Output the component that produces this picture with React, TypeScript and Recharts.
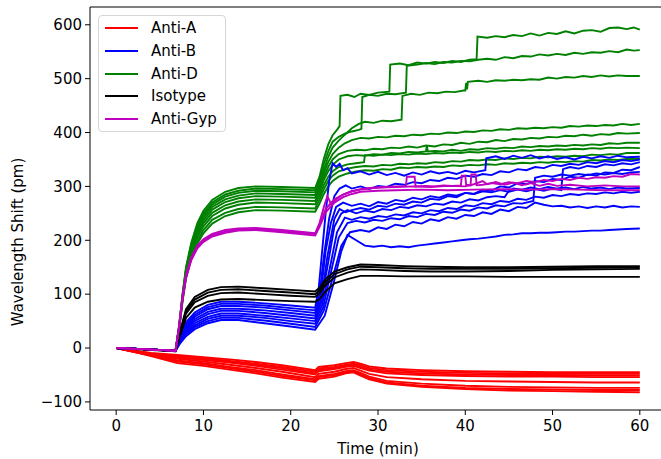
import React from 'react';
import { LineChart, Line, XAxis, YAxis, ReferenceLine } from 'recharts';

type Pt = [number, number];

const X_TICKS = [0, 10, 20, 30, 40, 50, 60];
const Y_TICKS = [-100, 0, 100, 200, 300, 400, 500, 600];
const X_DOMAIN: [number, number] = [-3, 63];
const Y_DOMAIN: [number, number] = [-115, 633];

// Anti-A (red) share one time base
const RED_T = [0, 2, 4, 7, 10, 13, 16, 19, 22.8, 23.2, 25, 26.3, 27.2, 28, 29, 31, 35, 40, 45, 50, 55, 60];
const red1 = [0, -5, -9, -13, -17, -21, -26, -32, -41, -35, -32, -28, -26, -29, -34, -38, -41, -43, -44, -45, -45, -45];
const red2 = [0, -5, -10, -15, -19, -24, -29, -35, -44, -38, -35, -31, -29, -32, -37, -41, -44, -46, -47, -48, -48, -48];
const red3 = [0, -6, -11, -17, -21, -26, -31, -37, -47, -41, -37, -33, -31, -35, -40, -44, -47, -49, -50, -50, -51, -51];
const red4 = [0, -6, -11, -18, -22, -27, -33, -40, -49, -43, -39, -35, -33, -37, -42, -47, -50, -52, -53, -53, -54, -54];
const red5 = [0, -6, -12, -20, -25, -31, -37, -44, -54, -48, -44, -39, -37, -42, -48, -54, -58, -61, -62, -63, -64, -64];
const red6 = [0, -7, -13, -23, -28, -35, -41, -49, -58, -52, -48, -43, -41, -46, -53, -61, -66, -70, -72, -73, -74, -74];
const red7 = [0, -7, -14, -25, -30, -37, -44, -52, -60, -54, -50, -45, -43, -49, -56, -64, -70, -74, -76, -77, -78, -78];
const red8 = [0, -7, -15, -28, -33, -40, -47, -55, -63, -57, -53, -47, -45, -51, -58, -66, -72, -76, -79, -80, -81, -82];

// Isotype (black) share one time base
const BLACK_T = [0, 3, 6.8, 7.3, 8, 9, 10.5, 12, 14, 17, 20, 22.8, 23.3, 24, 25, 26.5, 28, 30, 33, 36, 40, 45, 50, 55, 60];
const iso1 = [0, -2, -5, 30, 72, 95, 108, 113, 114, 111, 108, 105, 112, 128, 142, 150, 155, 154, 152, 151, 150, 150, 151, 152, 152];
const iso2 = [0, -2, -5, 28, 68, 90, 103, 108, 109, 106, 103, 100, 107, 123, 137, 146, 151, 150, 148, 147, 147, 147, 148, 149, 150];
const iso3 = [0, -2, -6, 26, 64, 85, 97, 102, 103, 100, 97, 95, 101, 117, 131, 140, 146, 145, 143, 142, 142, 143, 145, 146, 147];
const iso4 = [0, -3, -6, 22, 56, 75, 86, 90, 91, 89, 87, 86, 91, 105, 120, 128, 134, 134, 133, 133, 133, 132, 132, 132, 132];

// Anti-D (green)
const antiD1: Pt[] = [[0,0],[3,-2],[6.8,-5],[7.2,40],[7.6,100],[8,150],[8.6,195],[9.3,232],[10,255],[11,275],[12.5,290],[14,297],[16,300],[19,299],[22.8,297],[23.3,318],[23.8,352],[24.3,378],[24.8,395],[25.3,405],[25.6,412],[25.7,468],[26.5,470],[27.3,466],[28,472],[29,470],[30,474],[31.3,476],[31.4,526],[32.5,528],[33.5,525],[34.5,530],[35.5,528],[36.5,531],[37.5,529],[38.5,533],[39.5,531],[40.5,535],[41.3,536],[41.4,578],[42.5,576],[43.5,579],[44.5,577],[45.5,581],[46.5,579],[47.5,584],[48.5,580],[49.5,585],[50.5,583],[51.5,588],[52.5,584],[53.5,589],[54.5,590],[55.5,587],[56.5,594],[57.5,595],[58.5,592],[59.3,595],[60,591]];
const antiD2: Pt[] = [[0,0],[3,-2],[6.8,-5],[7.2,40],[7.6,98],[8,147],[8.6,192],[9.3,228],[10,250],[11,270],[12.5,285],[14,292],[16,296],[19,295],[22.8,293],[23.3,312],[23.8,342],[24.3,365],[24.8,383],[25.5,392],[26.2,398],[27,402],[27.8,405],[28.1,407],[28.2,466],[29,470],[30,468],[31,472],[32,471],[33.2,474],[33.3,524],[34.5,526],[35.5,529],[36.5,527],[37.5,531],[38.5,530],[39.5,533],[40.5,532],[41.5,535],[42.5,537],[43.5,535],[44.5,540],[45.5,538],[46.5,542],[47.5,541],[48.5,545],[49.5,543],[50.5,546],[51.5,544],[52.5,548],[53.5,546],[54.5,549],[55.5,548],[56.5,551],[57.5,549],[58.5,554],[59.3,552],[60,553]];
const antiD3: Pt[] = [[0,0],[3,-2],[6.8,-5],[7.2,38],[7.6,96],[8,145],[8.6,189],[9.3,224],[10,246],[11,266],[12.5,281],[14,288],[16,292],[19,291],[22.8,289],[23.3,305],[23.8,332],[24.3,355],[24.8,372],[25.5,385],[26.2,396],[27,408],[27.8,416],[28.5,420],[29.5,418],[30.5,422],[31.5,421],[32.7,424],[32.8,468],[33.8,472],[34.8,470],[35.8,474],[36.8,473],[37.8,476],[38.8,475],[39.8,478],[40,478],[40.1,492],[40.2,480],[40.3,494],[41.5,496],[42.5,494],[43.5,497],[44.5,496],[45.5,498],[46.5,497],[47.5,499],[48.5,498],[49.5,502],[50.5,500],[51.5,503],[52.5,502],[53.5,505],[54.5,503],[55.5,506],[56.5,504],[57.5,506],[58.5,505],[60,505]];
const antiD4: Pt[] = [[0,0],[3,-2],[6.8,-5],[7.2,38],[7.6,95],[8,143],[8.6,186],[9.3,220],[10,242],[11,262],[12.5,276],[14,283],[16,287],[19,286],[22.8,284],[23.3,300],[23.8,325],[24.3,345],[24.8,360],[25.5,372],[26.2,380],[27,386],[28,390],[29,389],[30,392],[31,391],[32,394],[33,393],[34,396],[35,395],[36,398],[37,397],[38,400],[39,399],[40,402],[41,401],[42,404],[43,403],[44,406],[45,405],[46,408],[47,407],[48,409],[49,408],[50,410],[51,409],[52,412],[53,411],[54,413],[55,412],[56,414],[57,413],[58,416],[59,414],[60,416]];
const antiD5: Pt[] = [[0,0],[3,-2],[6.8,-5],[7.2,36],[7.6,93],[8,140],[8.6,182],[9.3,215],[10,237],[11,257],[12.5,271],[14,278],[16,282],[19,281],[22.8,279],[23.3,296],[23.8,318],[24.3,336],[24.8,350],[25.5,360],[26.5,366],[27.5,368],[28.5,367],[29.5,370],[30.5,369],[31.5,372],[32.5,371],[33.5,374],[34.5,372],[35.5,376],[36.5,374],[37.5,378],[38.5,377],[39.5,381],[40.5,379],[41.5,383],[42.5,382],[43.5,386],[44.5,384],[45.5,388],[46.5,387],[47.5,390],[48.5,389],[49.5,392],[50.5,391],[51.5,394],[52.5,393],[53.5,396],[54.5,394],[55.5,397],[56.5,396],[57.5,399],[58.5,398],[60,399]];
const antiD6: Pt[] = [[0,0],[3,-2],[6.8,-5],[7.2,35],[7.6,92],[8,138],[8.6,178],[9.3,210],[10,232],[11,251],[12.5,265],[14,272],[16,276],[19,275],[22.8,273],[23.3,290],[23.8,312],[24.3,328],[24.8,340],[25.5,350],[26.5,356],[27.5,358],[28.5,357],[29.5,360],[30.5,359],[31.5,362],[32.5,361],[33.5,364],[34.5,363],[35.5,365],[35.6,376],[35.7,365],[36.5,366],[37.5,365],[38.5,368],[39.5,366],[40.5,369],[41.5,368],[42.5,371],[43.5,370],[44.5,372],[45.5,371],[46.5,374],[47.5,373],[48.5,375],[49.5,374],[50.5,376],[51.5,375],[52.5,377],[53.5,376],[54.5,378],[55.5,377],[56.5,380],[57.5,379],[58.5,381],[60,381]];
const antiD7: Pt[] = [[0,0],[3,-2],[6.8,-5],[7.2,34],[7.6,90],[8,135],[8.6,174],[9.3,205],[10,226],[11,245],[12.5,259],[14,266],[16,270],[19,269],[22.8,267],[23.3,283],[23.8,303],[24.3,318],[24.8,328],[25.5,336],[26.5,341],[27.5,343],[28.4,345],[28.5,358],[29.5,357],[30.5,359],[31.5,358],[32.5,360],[33.5,359],[34.5,361],[35.5,360],[36.5,362],[37.5,361],[38.5,363],[39.5,362],[40.5,364],[41.5,363],[42.5,365],[43.5,364],[44.5,366],[45.5,365],[46.5,367],[47.5,366],[48.5,368],[49.5,367],[50.5,369],[51.5,368],[52.5,370],[53.5,369],[54.5,371],[55.5,370],[56.5,372],[57.5,371],[58.5,372],[60,371]];
const antiD8: Pt[] = [[0,0],[3,-2],[6.8,-5],[7.2,33],[7.6,88],[8,132],[8.6,170],[9.3,199],[10,219],[11,238],[12.5,251],[14,258],[16,262],[19,261],[22.8,259],[23.3,276],[23.8,295],[24.3,310],[24.8,320],[25.5,328],[26.5,333],[27.5,336],[28.5,338],[29.5,337],[30.5,340],[31.5,339],[32.5,342],[33.5,341],[34.5,343],[35.5,342],[36.5,345],[37.5,344],[38.5,347],[39.5,346],[40.5,349],[41.5,348],[42.5,350],[43.5,349],[44.5,352],[45.5,351],[46.5,353],[47.5,352],[48.5,355],[49.5,354],[50.5,356],[51.5,355],[52.5,357],[53.5,356],[54.5,359],[55.5,358],[56.5,360],[57.5,359],[58.5,362],[60,362]];
const antiD9: Pt[] = [[0,0],[3,-2],[6.8,-5],[7.2,32],[7.6,86],[8,129],[8.6,166],[9.3,194],[10,213],[11,231],[12.5,245],[14,252],[16,256],[19,255],[22.8,253],[23.3,268],[23.8,286],[24.3,300],[24.8,310],[25.5,318],[26.5,324],[27.5,328],[28.5,330],[29.5,329],[30.5,332],[31.5,331],[32.5,335],[33.5,334],[34.5,336],[35.5,335],[36.5,337],[37.5,336],[38.5,339],[39.5,338],[40.5,340],[41.5,339],[42.5,341],[43.5,340],[44.5,343],[45.5,342],[46.5,344],[47.5,343],[48.5,345],[49.5,344],[50.5,346],[51.5,345],[52.5,347],[53.5,346],[54.5,349],[55.5,348],[56.5,350],[57.5,349],[58.5,351],[60,351]];

// Anti-B (blue)
const antiB1: Pt[] = [[0,0],[3,-2],[6.8,-5],[7.3,25],[8,48],[9,66],[10.5,80],[12,86],[14,86],[17,83],[20,79],[22.8,75],[23.2,110],[23.6,180],[24,250],[24.4,310],[24.8,343],[25.2,336],[25.6,342],[26,330],[26.5,334],[27,324],[28,328],[29,322],[30,327],[31,321],[32,325],[33,320],[34,326],[35,322],[36,328],[37,324],[38,327],[39,323],[40,329],[41,326],[42.3,330],[42.4,352],[43.5,356],[44.5,351],[45.5,357],[46.5,353],[47.5,358],[48.5,352],[49.5,356],[50.5,351],[51.5,354],[52.5,350],[53.5,355],[54.5,352],[55.5,356],[56.5,353],[57.5,357],[58.5,354],[60,355]];
const antiB2: Pt[] = [[0,0],[3,-2],[6.8,-5],[7.3,22],[8,44],[9,62],[10.5,76],[12,82],[14,82],[17,79],[20,74],[22.8,70],[23.3,100],[23.8,170],[24.4,240],[25,282],[25.6,296],[26.3,302],[27,296],[28,300],[29,295],[30,301],[31,299],[32,305],[33,303],[34,308],[35,306],[36,312],[37,310],[38,316],[39,314],[40,320],[41,318],[42,323],[43,321],[44,328],[45,326],[46,332],[47,330],[48,336],[49,334],[50,340],[51,338],[52,342],[53,340],[54,345],[55,343],[56,347],[57,345],[58,349],[59,347],[60,350]];
const antiB3: Pt[] = [[0,0],[3,-2],[6.8,-5],[7.3,20],[8,41],[9,58],[10.5,72],[12,78],[14,78],[17,75],[20,70],[22.8,65],[23.4,95],[24,180],[24.6,232],[25.2,262],[26,270],[27,264],[28,268],[29,263],[30,271],[31,268],[32,275],[33,272],[34,279],[35,276],[36,282],[37,279],[38,285],[39,283],[40,288],[41,286],[42,291],[43,289],[44,293],[45,290],[46,294],[47,291],[48,295],[49,292],[50,296],[51,293],[51.2,332],[52,336],[53,333],[54,338],[55,336],[56,341],[57,339],[58,343],[59,341],[60,345]];
const antiB4: Pt[] = [[0,0],[3,-2],[6.8,-5],[7.3,18],[8,38],[9,54],[10.5,67],[12,73],[14,73],[17,70],[20,65],[22.8,60],[23.5,90],[24.2,170],[25,240],[25.6,258],[26.3,252],[27,256],[28,260],[29,257],[30,264],[31,262],[32,268],[33,266],[34,272],[35,270],[36,277],[37,275],[38,282],[39,280],[40,288],[41,286],[42,294],[43,292],[44,300],[45,298],[46,306],[47,304],[48,310],[49,308],[50,314],[51,312],[52,318],[53,316],[54,322],[55,320],[56,326],[57,325],[58,331],[59,330],[60,336]];
const antiB5: Pt[] = [[0,0],[3,-2],[6.8,-5],[7.3,16],[8,35],[9,50],[10.5,63],[12,69],[14,69],[17,65],[20,60],[22.8,55],[23.5,85],[24.3,160],[25,225],[25.8,250],[26.5,256],[27.5,250],[28.5,255],[29.5,252],[30.5,258],[31.5,256],[32.5,262],[33.5,260],[34.5,265],[35.5,263],[36.5,268],[37.5,266],[38.5,272],[39.5,270],[40.5,276],[41.5,274],[42.5,280],[43.5,282],[44.5,280],[45,292],[45.5,296],[46.5,294],[47.5,298],[48.5,295],[49.5,299],[50.5,296],[51.5,298],[52.5,295],[53.5,299],[54.5,296],[55.5,298],[56.5,295],[57.5,298],[58.5,296],[60,297]];
const antiB6: Pt[] = [[0,0],[3,-2],[6.8,-5],[7.3,14],[8,31],[9,46],[10.5,58],[12,64],[14,64],[17,60],[20,55],[22.8,50],[23.6,80],[24.5,150],[25.3,215],[26.2,242],[27,238],[28,243],[29,240],[30,245],[31,243],[32,248],[33,246],[34,252],[35,250],[36,256],[37,254],[38,260],[39,258],[40,265],[41,263],[42,269],[43,267],[44,273],[45,271],[46,277],[47,275],[48,281],[49,279],[50,284],[51,282],[52,286],[53,284],[54,287],[55,286],[56,289],[57,287],[58,290],[59,288],[60,290]];
const antiB7: Pt[] = [[0,0],[3,-2],[6.8,-5],[7.3,12],[8,28],[9,42],[10.5,54],[12,60],[14,60],[17,56],[20,50],[22.8,45],[23.7,75],[24.6,140],[25.5,205],[26.5,232],[27.5,236],[28.5,233],[29.5,238],[30.5,236],[31.5,241],[32.5,239],[33.5,245],[34.5,243],[35.5,249],[36.5,247],[37.5,253],[38.5,251],[39.5,257],[40.5,255],[41.5,261],[42.5,259],[43.5,265],[44.5,263],[45.5,269],[46.5,268],[47.8,273],[48,316],[49,320],[50,318],[51,322],[52,320],[53,323],[54,321],[55,324],[56,322],[57,325],[58,323],[59,326],[60,327]];
const antiB8: Pt[] = [[0,0],[3,-2],[6.8,-5],[7.3,10],[8,25],[9,39],[10.5,50],[12,56],[14,56],[17,51],[20,45],[22.8,39],[23.8,70],[24.8,130],[25.8,190],[26.8,215],[28,219],[29,216],[30,224],[31,221],[32,229],[33,226],[34,234],[35,231],[36,239],[37,236],[38,243],[39,240],[40,247],[41,245],[42,252],[43,249],[44,257],[45,254],[46,262],[47,260],[48,270],[49,266],[50,263],[51,264],[52,261],[53,263],[54,260],[55,263],[56,261],[57,264],[58,261],[59,263],[60,262]];
const antiB9: Pt[] = [[0,0],[3,-2],[6.8,-5],[7.3,8],[8,22],[9,35],[10.5,46],[12,52],[14,52],[17,46],[20,40],[22.8,34],[23.9,60],[24.9,120],[25.8,180],[26.5,210],[27.5,200],[28.5,190],[29.5,188],[30.5,190],[31.5,187],[32.5,189],[33.5,187],[34.5,190],[35.5,192],[36.5,194],[37.5,196],[38.5,198],[39.5,200],[40.5,202],[41.5,203],[42.5,205],[43.5,207],[44.5,210],[45.5,211],[46.5,213],[47.5,213],[48.5,214],[49.5,214],[50.5,215],[51.5,216],[52.5,216],[53.5,217],[54.5,218],[55.5,218],[56.5,219],[57.5,220],[58.5,221],[60,222]];

// Anti-Gyp (magenta)
const gyp1: Pt[] = [[0,0],[3,-2],[6.8,-5],[7.2,40],[7.6,95],[8,135],[8.6,168],[9.3,190],[10,202],[11,212],[12.5,219],[14,222],[16,223],[19,219],[22.8,213],[23.3,232],[23.8,262],[24.2,282],[24.6,268],[25.2,276],[26,285],[27,291],[28,295],[29,297],[30,298],[31,299],[32,300],[33.2,300],[33.3,318],[34.2,318],[34.3,300],[35.5,301],[36.5,300],[37.5,302],[38.5,301],[39.5,302],[39.6,320],[40,320],[40.1,303],[40.6,302],[40.7,322],[41.2,322],[41.3,302],[42,303],[43,306],[44,304],[45,308],[46,306],[47,310],[48,308],[49,312],[50,310],[51,314],[52,312],[53,316],[54,314],[55,317],[56,316],[57,319],[58,318],[59,323],[60,322]];
const gyp2: Pt[] = [[0,0],[3,-2],[6.8,-5],[7.2,38],[7.6,92],[8,132],[8.6,165],[9.3,187],[10,199],[11,209],[12.5,216],[14,220],[16,221],[19,217],[22.8,211],[23.3,228],[24,258],[25,276],[26,285],[27,291],[28,294],[29,296],[30,298],[32,299],[34,300],[36,299],[38,301],[40,300],[41,304],[42,310],[42.5,304],[43.5,308],[44.5,303],[45.5,307],[46.5,302],[47.5,306],[48.5,301],[49.5,305],[50.5,301],[52,303],[54,300],[56,302],[58,300],[60,300]];
const gyp3: Pt[] = [[0,0],[3,-2],[6.8,-5],[7.2,36],[7.6,90],[8,130],[8.6,163],[9.3,185],[10,197],[11,207],[12.5,214],[14,218],[16,219],[19,215],[22.8,209],[23.3,225],[24,252],[25,270],[26,280],[27,286],[28,290],[30,292],[32,293],[35,294],[38,293],[41,294],[44,295],[47,294],[50,295],[53,294],[56,293],[60,293]];

const RED = '#ff0000';
const BLUE = '#0000ff';
const GREEN = '#008000';
const BLACK = '#000000';
const MAGENTA = '#bf00bf';

const zip = (ts: number[], vs: number[]): Pt[] => ts.map((t, i) => [t, vs[i]]);

const GROUPS: { name: string; color: string; lines: Pt[][] }[] = [
  { name: 'Anti-A', color: RED, lines: [red1, red2, red3, red4, red5, red6, red7, red8].map((v) => zip(RED_T, v)) },
  { name: 'Anti-D', color: GREEN, lines: [antiD1, antiD2, antiD3, antiD4, antiD5, antiD6, antiD7, antiD8, antiD9] },
  { name: 'Anti-B', color: BLUE, lines: [antiB1, antiB2, antiB3, antiB4, antiB5, antiB6, antiB7, antiB8, antiB9] },
  { name: 'Isotype', color: BLACK, lines: [iso1, iso2, iso3, iso4].map((v) => zip(BLACK_T, v)) },
  { name: 'Anti-Gyp', color: MAGENTA, lines: [gyp1, gyp2, gyp3] },
];

const LEGEND = [
  { name: 'Anti-A', color: RED },
  { name: 'Anti-B', color: BLUE },
  { name: 'Anti-D', color: GREEN },
  { name: 'Isotype', color: BLACK },
  { name: 'Anti-Gyp', color: MAGENTA },
];

const FONT = '"DejaVu Sans", sans-serif';

const fmt = (v: number) => (v < 0 ? `\u2212${Math.abs(v)}` : `${v}`);

const App: React.FC = () => {
  return (
    <div
      style={{
        position: 'absolute',
        left: 0,
        top: 0,
        width: 661,
        height: 459,
        overflow: 'hidden',
        background: '#fff',
        fontFamily: FONT,
      }}
    >
      <LineChart width={670} height={459} margin={{ top: 7, right: 4, bottom: 0, left: 0 }}>
        <XAxis
          type="number"
          dataKey="t"
          domain={X_DOMAIN}
          ticks={X_TICKS}
          allowDataOverflow
          height={49}
          tickSize={5}
          tickMargin={5}
          stroke="#000"
          tick={{ fill: '#000', fontSize: 15, fontFamily: FONT }}
          label={{
            content: (p: any) => {
              const vb = p.viewBox || { x: 90, y: 410, width: 576 };
              return (
                <text x={vb.x + vb.width / 2} y={vb.y + 43.5} textAnchor="middle" fontSize={15} fontFamily={FONT} fill="#000">
                  Time (min)
                </text>
              );
            },
          }}
        />
        <YAxis
          type="number"
          dataKey="v"
          domain={Y_DOMAIN}
          ticks={Y_TICKS}
          allowDataOverflow
          width={90}
          tickSize={5}
          tickMargin={3}
          stroke="#000"
          tickFormatter={fmt}
          tick={{ fill: '#000', fontSize: 15, fontFamily: FONT }}
          label={{
            content: () => (
              <text x={22.5} y={242} transform="rotate(-90 22.5 242)" textAnchor="middle" fontSize={15} fontFamily={FONT} fill="#000">
                Wavelength Shift (pm)
              </text>
            ),
          }}
        />
        <ReferenceLine y={Y_DOMAIN[1]} stroke="#000" strokeWidth={1} />
        {GROUPS.flatMap((g) =>
          g.lines.map((pts, i) => (
            <Line
              key={`${g.name}-${i}`}
              data={pts.map(([t, v]) => ({ t, v }))}
              dataKey="v"
              type="linear"
              stroke={g.color}
              strokeWidth={1.9}
              dot={false}
              activeDot={false}
              isAnimationActive={false}
            />
          ))
        )}
      </LineChart>
      <div
        style={{
          position: 'absolute',
          left: 98,
          top: 15,
          width: 128,
          height: 117,
          border: '1px solid #d6d6d6',
          borderRadius: 4,
          background: 'rgba(255,255,255,0.8)',
          boxSizing: 'border-box',
        }}
      >
        {LEGEND.map((e, i) => (
          <div key={e.name} style={{ position: 'absolute', left: 0, top: 3 + i * 22.8, height: 18, width: '100%' }}>
            <div style={{ position: 'absolute', left: 6, top: 8, width: 33, height: 2, background: e.color }} />
            <div style={{ position: 'absolute', left: 52, top: 0, lineHeight: '18px', fontSize: 15, color: '#000' }}>{e.name}</div>
          </div>
        ))}
      </div>
    </div>
  );
};

export default App;
